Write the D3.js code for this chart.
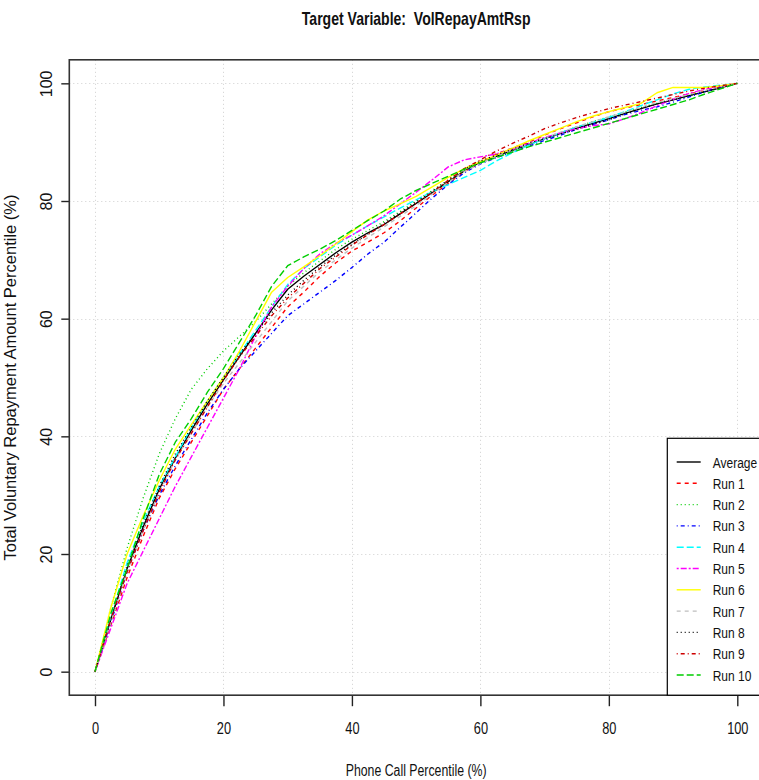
<!DOCTYPE html>
<html>
<head>
<meta charset="utf-8">
<script src="https://cdn.jsdelivr.net/npm/d3@7"></script>
<style>
  html, body { margin: 0; padding: 0; background: #fff; }
  svg { display: block; }
  text { font-family: "Liberation Sans", Arial, Helvetica, sans-serif; fill: #111; }
</style>
</head>
<body>
<script>
// Cumulative gain curves: share of voluntary repayment amount captured
// versus share of phone calls made, for ten runs and their average.
const xPct = [0, 2.5, 5, 7.5, 10, 12.5, 15, 17.5, 20, 22.5, 25, 27.5, 30, 32.5, 35, 37.5, 40,
  42.5, 45, 47.5, 50, 52.5, 55, 57.5, 60, 62.5, 65, 67.5, 70, 72.5, 75, 77.5, 80, 82.5, 85,
  87.5, 90, 92.5, 95, 97.5, 100];

const average = [0, 9, 17.5, 24.6, 31, 36.3, 41, 45.5, 49.6, 53.6, 57.5, 61.5, 65, 67.2, 69.2,
  71.2, 73, 74.6, 76, 77.8, 79.6, 81.4, 83.3, 85.1, 86.6, 87.6, 88.6, 89.6, 90.6, 91.5, 92.4,
  93.2, 94, 94.9, 95.7, 96.5, 97.2, 97.9, 98.6, 99.3, 100];
const run1 = [0, 8, 16, 23, 29.5, 34.5, 39, 43.5, 48, 51.5, 55, 58.5, 62, 64.5, 67.2, 69.5,
  71.5, 73, 74.6, 76.6, 78.8, 81, 83, 85, 86.5, 88, 89, 90, 91.2, 92.3, 93.3, 94.3, 95.2, 95.8,
  96.4, 97, 97.6, 98.2, 98.8, 99.4, 100];
const run2 = [0, 11, 21, 29.5, 37, 43, 48, 51.5, 54.5, 57, 59.5, 62.5, 65.5, 67.8, 69.8, 71.8,
  73.5, 75, 76.5, 78.2, 80, 81.8, 83.5, 85.2, 86.5, 87.5, 88.5, 89.6, 90.6, 91.6, 92.6, 93.5,
  94.3, 95.1, 95.9, 96.6, 97.3, 98, 98.7, 99.3, 100];
const run3 = [0, 8.5, 17, 24, 30, 35, 39.5, 44, 48, 51.5, 54.5, 57.5, 60.5, 62.5, 64.5, 66.5,
  68.7, 71, 73, 75.5, 78, 80.5, 82.8, 84.8, 86.3, 87.4, 88.3, 89.3, 90.3, 91.2, 92.2, 93, 93.8,
  94.7, 95.4, 96, 96.8, 97.7, 98.6, 99.4, 100];
const run4 = [0, 9.5, 18.5, 25.5, 31.5, 36.5, 41.5, 46, 50, 54, 58, 62, 65.8, 68.5, 70.5, 72.5,
  74.2, 75.8, 77.3, 78.8, 80.2, 81.6, 82.8, 84, 85.2, 86.8, 88.2, 89.5, 90.6, 91.6, 92.6, 93.4,
  94.2, 95.2, 96.2, 97.2, 98.2, 99, 99.4, 99.7, 100];
const run5 = [0, 7.5, 15, 20.5, 26, 31.5, 36.5, 41.5, 46.5, 51.5, 57, 62, 65.5, 68.5, 71, 72.8,
  74.2, 75.8, 77.5, 79.5, 81.5, 83.6, 85.8, 87, 87.5, 88, 88.8, 89.8, 90.8, 91.6, 92.3, 92.8,
  93.1, 94, 95, 96.2, 97.3, 98.3, 99, 99.5, 100];
const run6 = [0, 11, 20, 26.5, 32.5, 37.8, 42, 46, 50, 54.5, 59.5, 64.5, 67, 68.8, 70.7, 72.7,
  74.8, 76.8, 78.3, 79.5, 80.8, 82.4, 84, 85.5, 86.7, 87.8, 89, 90.2, 91.3, 92.4, 93.5, 94.4,
  95.2, 95.9, 96.6, 98.4, 99.3, 99.3, 99.3, 99.6, 100];
const run7 = [0, 8.5, 17, 24, 30.5, 36, 40.5, 45, 49, 52.5, 56, 59.5, 63, 65.5, 68, 70, 72, 73.8,
  75.6, 77.4, 79.2, 81.2, 83.2, 85, 86.4, 87.6, 88.7, 89.7, 90.7, 91.7, 92.6, 93.5, 94.3, 95.1,
  95.9, 96.7, 97.4, 98.1, 98.8, 99.4, 100];
const run8 = [0, 9, 18, 25, 31.5, 37, 41.5, 46, 50, 54, 57.5, 61, 64, 66.5, 68.8, 70.8, 72.6,
  74.4, 76.2, 78, 79.8, 81.6, 83.6, 85.4, 86.8, 87.8, 88.8, 89.8, 90.6, 91.4, 92.2, 93, 93.8,
  94.8, 95.7, 96.5, 97.2, 97.9, 98.6, 99.3, 100];
const run9 = [0, 9, 17, 24, 30.5, 36, 40.5, 45, 49.5, 53.5, 57, 60.5, 63.5, 66, 68.5, 70.5, 72.5,
  74.3, 76, 77.8, 79.6, 81.5, 83.5, 85.5, 87, 88.5, 89.8, 91, 92.3, 93.3, 94.2, 95, 95.7, 96.3,
  96.9, 97.5, 98.1, 98.7, 99.2, 99.6, 100];
const run10 = [0, 10, 17.5, 26, 33.5, 39, 43, 47.5, 51.5, 56, 60.5, 65.5, 69, 70.5, 71.8, 73.3,
  75, 76.7, 78.3, 80.3, 81.8, 83, 84.2, 85.4, 86.5, 87.4, 88.3, 89.2, 90, 90.8, 91.6, 92.4, 93.2,
  94, 94.8, 95.6, 96.4, 97.2, 98.2, 99.1, 100];

const seriesNames = ["Average", "Run 1", "Run 2", "Run 3", "Run 4", "Run 5", "Run 6", "Run 7",
  "Run 8", "Run 9", "Run 10"];
const seriesValues = [average, run1, run2, run3, run4, run5, run6, run7, run8, run9, run10];
const seriesColors = ["#000000", "#FF0000", "#00CD00", "#0000FF", "#00FFFF", "#FF00FF",
  "#FFFF00", "#BEBEBE", "#000000", "#CD0000", "#00CD00"];
// solid, dashed, dotted, dotdash, longdash, twodash, then repeat
const seriesDash = [null, "4,4", "1,3", "1,3,4,3", "7,3", "2,2,6,2", null, "4,4", "1,3",
  "1,3,4,3", "7,3"];

const xTicks = [0, 20, 40, 60, 80, 100];
const yTicks = [0, 20, 40, 60, 80, 100];

const titleText = "Target Variable:  VolRepayAmtRsp";
const xTitle = "Phone Call Percentile (%)";
const yTitle = "Total Voluntary Repayment Amount Percentile (%)";

const W = 759, H = 780;
const plot = { left: 69.3, right: 763, top: 59.8, bottom: 695.2 };

const svg = d3.select("body").append("svg").attr("width", W).attr("height", H);
svg.append("rect").attr("width", W).attr("height", H).attr("fill", "#fff");

const x = d3.scaleLinear().domain([-4, 104]).range([plot.left, plot.right]);
const y = d3.scaleLinear().domain([-4, 104]).range([plot.bottom, plot.top]);

// dotted light grid at the tick positions
const grid = svg.append("g").attr("stroke", "#cfcfcf").attr("stroke-width", 1)
  .attr("stroke-dasharray", "1,3");
grid.selectAll("line.v").data(xTicks).join("line").attr("class", "v")
  .attr("x1", d => Math.round(x(d)) + 0.5).attr("x2", d => Math.round(x(d)) + 0.5)
  .attr("y1", plot.top).attr("y2", plot.bottom);
grid.selectAll("line.h").data(yTicks).join("line").attr("class", "h")
  .attr("y1", d => Math.round(y(d)) + 0.5).attr("y2", d => Math.round(y(d)) + 0.5)
  .attr("x1", plot.left).attr("x2", plot.right);

// curves
const line = d3.line().x((d, i) => x(xPct[i])).y(d => y(d));
const curves = svg.append("g").attr("fill", "none");
seriesValues.forEach((vals, k) => {
  curves.append("path").datum(vals)
    .attr("d", line)
    .attr("stroke", seriesColors[k])
    .attr("stroke-width", 1.4)
    .attr("stroke-dasharray", seriesDash[k])
    .attr("stroke-linejoin", "round");
});

// axes
const xAxis = svg.append("g").attr("transform", `translate(0,${plot.bottom})`)
  .call(d3.axisBottom(x).tickValues(xTicks).tickSize(11).tickFormat(d3.format("d")));
xAxis.select(".domain").remove();
xAxis.selectAll(".tick line").attr("stroke", "#222").attr("stroke-width", 1.4);
xAxis.selectAll(".tick text")
  .attr("y", 0).attr("dy", null)
  .attr("transform", "translate(0,38.5) scale(0.8,1)")
  .style("font-size", "16px").attr("fill", "#111");

const yAxis = svg.append("g").attr("transform", `translate(${plot.left},0)`)
  .call(d3.axisLeft(y).tickValues(yTicks).tickSize(8).tickFormat(d3.format("d")));
yAxis.select(".domain").remove();
yAxis.selectAll(".tick line").attr("stroke", "#222").attr("stroke-width", 1.4);
yAxis.selectAll(".tick text")
  .attr("x", 0).attr("dy", null).attr("text-anchor", "middle")
  .attr("transform", "translate(-17,0) rotate(-90)")
  .style("font-size", "16px").attr("fill", "#111");

// plot frame
svg.append("rect")
  .attr("x", plot.left).attr("y", plot.top)
  .attr("width", plot.right - plot.left).attr("height", plot.bottom - plot.top)
  .attr("fill", "none").attr("stroke", "#333").attr("stroke-width", 1.6);

// titles
svg.append("text")
  .attr("transform", `translate(${(plot.left + plot.right) / 2},25) scale(0.78,1)`)
  .attr("text-anchor", "middle").style("font-size", "18px").style("font-weight", "bold")
  .style("white-space", "pre")
  .text(titleText);
svg.append("text")
  .attr("transform", `translate(${(plot.left + plot.right) / 2},776) scale(0.77,1)`)
  .attr("text-anchor", "middle").style("font-size", "16px")
  .text(xTitle);
svg.append("text")
  .attr("transform", `translate(16,${(plot.top + plot.bottom) / 2}) rotate(-90)`)
  .attr("text-anchor", "middle").style("font-size", "16.5px")
  .text(yTitle);

// legend in the lower right corner
const legend = svg.append("g");
legend.append("rect")
  .attr("x", 667.3).attr("y", 438.3)
  .attr("width", plot.right - 667.3).attr("height", plot.bottom - 438.3)
  .attr("fill", "#fff").attr("stroke", "#000").attr("stroke-width", 1.2);
const rowY = d3.scaleLinear().domain([0, 10]).range([462, 675]);
seriesNames.forEach((name, k) => {
  const cy = rowY(k);
  legend.append("line")
    .attr("x1", 676.7).attr("x2", 700.7).attr("y1", cy).attr("y2", cy)
    .attr("stroke", seriesColors[k]).attr("stroke-width", 1.4)
    .attr("stroke-dasharray", seriesDash[k]);
  legend.append("text")
    .attr("transform", `translate(712.7,${cy + 5.5}) scale(0.8,1)`)
    .style("font-size", "15px")
    .text(name);
});
</script>
</body>
</html>
